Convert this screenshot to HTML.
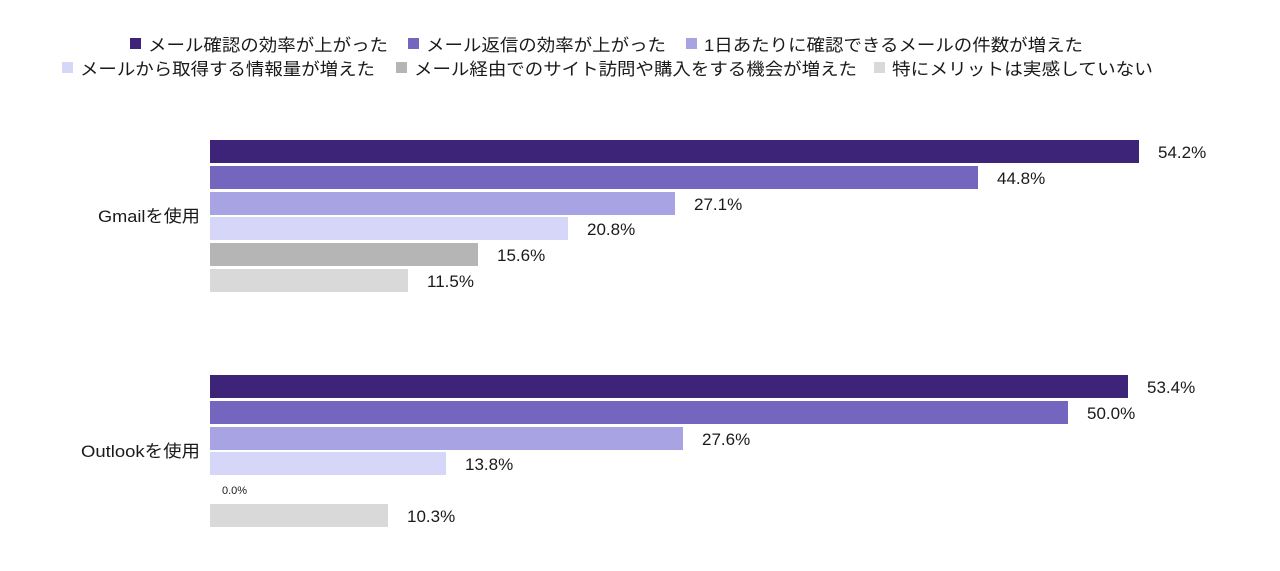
<!DOCTYPE html>
<html><head><meta charset="utf-8"><style>
body{margin:0;background:#fff}
text{font-family:"Liberation Sans","Noto Sans CJK JP",sans-serif;fill:#1a1a1a}
</style></head><body>
<svg width="1280" height="566" xmlns="http://www.w3.org/2000/svg">
<g font-size="17">
<rect x="130" y="38" width="11" height="11" fill="#3d2478"/><text x="148" y="51" textLength="240" lengthAdjust="spacingAndGlyphs">メール確認の効率が上がった</text>
<rect x="408" y="38" width="11" height="11" fill="#7466bf"/><text x="426" y="51" textLength="240" lengthAdjust="spacingAndGlyphs">メール返信の効率が上がった</text>
<rect x="686" y="38" width="11" height="11" fill="#a8a3e3"/><text x="704" y="51" textLength="379" lengthAdjust="spacingAndGlyphs">1日あたりに確認できるメールの件数が増えた</text>
<rect x="62" y="62" width="11" height="11" fill="#d6d6f8"/><text x="80" y="75" textLength="295" lengthAdjust="spacingAndGlyphs">メールから取得する情報量が増えた</text>
<rect x="396" y="62" width="11" height="11" fill="#b5b5b5"/><text x="414" y="75" textLength="443" lengthAdjust="spacingAndGlyphs">メール経由でのサイト訪問や購入をする機会が増えた</text>
<rect x="874" y="62" width="11" height="11" fill="#d9d9d9"/><text x="892" y="75" textLength="261" lengthAdjust="spacingAndGlyphs">特にメリットは実感していない</text>
</g>
<g font-size="17">
<text x="98" y="222" textLength="102" lengthAdjust="spacingAndGlyphs">Gmailを使用</text>
<text x="81" y="457" textLength="119" lengthAdjust="spacingAndGlyphs">Outlookを使用</text>
</g>
<g font-size="17">
<rect x="210" y="140" width="929" height="23" fill="#3d2478"/><text x="1158" y="158">54.2%</text>
<rect x="210" y="166" width="768" height="23" fill="#7466bf"/><text x="997" y="184">44.8%</text>
<rect x="210" y="192" width="465" height="23" fill="#a8a3e3"/><text x="694" y="210">27.1%</text>
<rect x="210" y="217" width="358" height="23" fill="#d6d6f8"/><text x="587" y="235">20.8%</text>
<rect x="210" y="243" width="268" height="23" fill="#b5b5b5"/><text x="497" y="261">15.6%</text>
<rect x="210" y="269" width="198" height="23" fill="#d9d9d9"/><text x="427" y="287">11.5%</text>

<rect x="210" y="375" width="918" height="23" fill="#3d2478"/><text x="1147" y="393">53.4%</text>
<rect x="210" y="401" width="858" height="23" fill="#7466bf"/><text x="1087" y="419">50.0%</text>
<rect x="210" y="427" width="473" height="23" fill="#a8a3e3"/><text x="702" y="445">27.6%</text>
<rect x="210" y="452" width="236" height="23" fill="#d6d6f8"/><text x="465" y="470">13.8%</text>
<text x="222" y="494" font-size="11">0.0%</text>
<rect x="210" y="504" width="178" height="23" fill="#d9d9d9"/><text x="407" y="522">10.3%</text>
</g>
</svg>
</body></html>
